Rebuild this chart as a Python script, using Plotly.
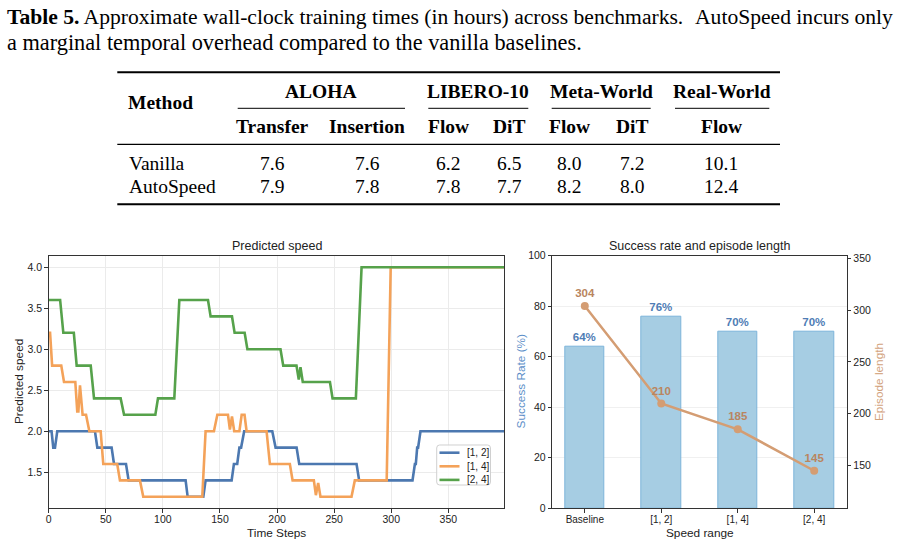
import plotly.graph_objects as go

W, H = 898, 545

# ---------------- data ----------------
# Table 5 (wall-clock training hours)
table_groups = ["ALOHA", "LIBERO-10", "Meta-World", "Real-World"]
table_cols = ["Transfer", "Insertion", "Flow", "DiT", "Flow", "DiT", "Flow"]
table_methods = ["Vanilla", "AutoSpeed"]
vanilla_hours = ["7.6", "7.6", "6.2", "6.5", "8.0", "7.2", "10.1"]
autospeed_hours = ["7.9", "7.8", "7.8", "7.7", "8.2", "8.0", "12.4"]

# Predicted speed traces (time step, speed)
speed12_t = [0, 2.5, 4, 5.5, 7.5, 40.5, 42.6, 55.1, 57.2, 67.7, 70, 119.9, 121.7, 135.4, 137.4,
             160.2, 162.2, 165.1, 167, 168.5, 171.2, 195.8, 198.7, 217.1, 219.4, 269.6, 271.9,
             318.6, 320.7, 321.5, 322.7, 323.5, 325.6, 399]
speed12_v = [2.0, 2.0, 1.8, 1.8, 2.0, 2.0, 1.8, 1.8, 1.6, 1.6, 1.4, 1.4, 1.2, 1.2, 1.4,
             1.4, 1.6, 1.6, 1.8, 1.8, 2.0, 2.0, 1.8, 1.8, 1.6, 1.6, 1.4,
             1.4, 1.6, 1.6, 1.8, 1.8, 2.0, 2.0]

speed14_t = [0, 1.2, 3, 11, 13.4, 23.3, 25, 26, 27.4, 29.7, 32.7, 35.6, 45.5, 47.8, 60, 62.4,
             79.9, 82.8, 134.5, 137.4, 144.7, 147.7, 157, 158.7, 160.5, 162.5, 167, 169, 171.5,
             173.3, 190.8, 193.7, 211.2, 213.6, 232.2, 234, 236, 238, 265.2, 268.1, 296, 299.5, 399]
speed14_v = [3.2, 3.2, 2.8, 2.8, 2.6, 2.6, 2.24, 2.24, 2.56, 2.2, 2.2, 2.0, 2.0, 1.6, 1.6, 1.4,
             1.4, 1.2, 1.2, 2.0, 2.0, 2.2, 2.2, 2.02, 2.18, 2.0, 2.0, 2.2, 2.2,
             2.0, 2.0, 1.6, 1.6, 1.4, 1.4, 1.22, 1.37, 1.2, 1.2, 1.4, 1.4, 4.0, 4.0]

speed24_t = [0, 10, 12.8, 22, 24.5, 36.8, 39.7, 63, 66, 93.4, 95.7, 110, 114.4, 139.5, 141.8,
             160.5, 162.8, 171.6, 174, 203, 205.4, 217, 219, 220.5, 222.5, 246.3, 248.6, 269,
             274, 399]
speed24_v = [3.6, 3.6, 3.2, 3.2, 2.8, 2.8, 2.4, 2.4, 2.2, 2.2, 2.4, 2.4, 3.6, 3.6, 3.4,
             3.4, 3.2, 3.2, 3.0, 3.0, 2.8, 2.8, 2.63, 2.78, 2.6, 2.6, 2.4, 2.4,
             4.0, 4.0]

speed_names = ["[1, 2]", "[1, 4]", "[2, 4]"]
speed_colors = ["#4C78B0", "#F4A259", "#56A24B"]

# Success rate / episode length
speed_ranges = ["Baseline", "[1, 2]", "[1, 4]", "[2, 4]"]
success_rate = [64, 76, 70, 70]
episode_length = [304, 210, 185, 145]


def px(x):
    return x / W


def py(y):
    return 1 - y / H


SANS = "Liberation Sans, Arial, sans-serif"
SERIF = "Liberation Serif, Times New Roman, serif"
AX = "#333333"
GRID = "#ebebeb"

fig = go.Figure()

for tt, vv, nm, col in zip([speed12_t, speed14_t, speed24_t], [speed12_v, speed14_v, speed24_v],
                           speed_names, speed_colors):
    fig.add_trace(go.Scatter(x=tt, y=vv, mode="lines", name=nm, showlegend=False,
                             line=dict(color=col, width=2.6), xaxis="x", yaxis="y"))

fig.add_trace(go.Bar(x=list(range(len(speed_ranges))), y=success_rate, width=0.52,
                     marker=dict(color="#a6cde3", line=dict(color="#7cb4da", width=1)),
                     texttemplate="<b>%{y}%</b>", textposition="outside", cliponaxis=False,
                     textfont=dict(family=SANS, size=11.5, color="#4f7db5"),
                     showlegend=False, xaxis="x2", yaxis="y2"))
fig.add_trace(go.Scatter(x=list(range(len(speed_ranges))), y=episode_length,
                         mode="lines+markers+text", texttemplate="<b>%{y}</b>",
                         textposition="top center", cliponaxis=False,
                         textfont=dict(family=SANS, size=11.5, color="#b98560"),
                         line=dict(color="#d49d73", width=2.5),
                         marker=dict(color="#d49d73", size=8),
                         showlegend=False, xaxis="x2", yaxis="y3"))

common = dict(showline=True, linecolor=AX, linewidth=1, ticks="outside", ticklen=3.5,
              tickcolor=AX, tickwidth=1, zeroline=False, automargin=False,
              tickfont=dict(family=SANS, size=10.5, color="#222222"))

ydom = [py(508.3), py(255.7)]
fig.update_layout(
    width=W, height=H, margin=dict(l=0, r=0, t=0, b=0, pad=0, autoexpand=False),
    paper_bgcolor="white", plot_bgcolor="white", showlegend=False,
    font=dict(family=SANS, color="#222222"),
    xaxis=dict(domain=[px(48.7), px(504.3)], range=[0, 399], anchor="y", mirror=True,
               tickvals=[0, 50, 100, 150, 200, 250, 300, 350], ticklabelstandoff=-2,
               showgrid=True, gridcolor=GRID, gridwidth=0.8, **common),
    yaxis=dict(domain=ydom, range=[1.06, 4.14], anchor="x", mirror=True,
               tickvals=[1.5, 2.0, 2.5, 3.0, 3.5, 4.0], tickformat=".1f",
               showgrid=True, gridcolor=GRID, gridwidth=0.8, **common),
    xaxis2=dict(domain=[px(552.3), px(846.7)], range=[-0.425, 3.425], anchor="y2", mirror=True,
                tickvals=list(range(len(speed_ranges))), ticktext=speed_ranges,
                ticklabelstandoff=-2, showgrid=False,
                **{**common, "tickfont": dict(family=SANS, size=10, color="#222222")}),
    yaxis2=dict(domain=ydom, range=[0, 100], anchor="x2", mirror=False,
                tickvals=[0, 20, 40, 60, 80, 100],
                showgrid=True, gridcolor="#f0f0f0", gridwidth=0.8, **common),
    yaxis3=dict(overlaying="y2", side="right", anchor="x2", range=[108.75, 352.6],
                tickvals=[150, 200, 250, 300, 350], showgrid=False, **common),
    bargap=0,
)

ann = []


def text(x, y, s, size, family=SANS, color="#222222", xanchor="center", angle=0):
    ann.append(dict(x=px(x), y=py(y), xref="paper", yref="paper", text=s, showarrow=False,
                    xanchor=xanchor, yanchor="middle", textangle=angle, borderpad=0,
                    font=dict(family=family, size=size, color=color)))


# chart titles and axis titles
text(276.5, 245.7, "Predicted speed", 12.5)
text(699.5, 245.7, "Success rate and episode length", 12.5)
text(276.5, 532.5, "Time Steps", 11.8)
text(699.5, 532.5, "Speed range", 11.8)
text(18.3, 381.7, "Predicted speed", 11.8, angle=-90)
text(520.7, 381.7, "Success Rate (%)", 11.8, color="#5b8ec8", angle=-90)
text(878.3, 381.7, "Episode length", 11.8, color="#d2a27c", angle=-90)

# caption (first line justified: left part + right part)
text(6, 17, "<b>Table 5.</b> Approximate wall-clock training times (in hours) across benchmarks.",
     21.6, family=SERIF, color="#000000", xanchor="left")
text(894, 17, "AutoSpeed incurs only", 21.6, family=SERIF, color="#000000", xanchor="right")
text(6, 42, "a marginal temporal overhead compared to the vanilla baselines.",
     22.3, family=SERIF, color="#000000", xanchor="left")

# table
col_x = [272, 367, 448, 509, 569, 632, 721]
group_x = [320.7, 478.3, 601, 721.7]
group_span = [(237.7, 405), (428.3, 528.3), (551.7, 650.7), (675, 769.3)]
TS = 19.5
text(160, 102.3, "<b>Method</b>", TS, family=SERIF, color="#000000")
for g, gx in zip(table_groups, group_x):
    text(gx, 91.7, "<b>%s</b>" % g, TS, family=SERIF, color="#000000")
for c, cx in zip(table_cols, col_x):
    text(cx, 126.7, "<b>%s</b>" % c, TS, family=SERIF, color="#000000")
rows_y = [163.3, 186.7]
for m, vals, ry in zip(table_methods, [vanilla_hours, autospeed_hours], rows_y):
    text(128.3, ry, m, TS, family=SERIF, color="#000000", xanchor="left")
    for v, cx in zip(vals, col_x):
        text(cx, ry, v, TS, family=SERIF, color="#000000")

shapes = []


def hline(x0, x1, y, w, color="#000000"):
    shapes.append(dict(type="line", xref="paper", yref="paper", x0=px(x0), x1=px(x1),
                       y0=py(y), y1=py(y), line=dict(color=color, width=w)))


hline(117.3, 780, 72.3, 2)
for a, b in group_span:
    hline(a, b, 108.3, 1)
hline(117.3, 780, 144.3, 1.2)
hline(117.3, 780, 204.3, 2)


# legend for the predicted-speed panel (rounded box)
def rounded_box(x0, y0, x1, y1, r):
    pts = [
        ("M", (x0 + r, y0)), ("L", (x1 - r, y0)), ("Q", (x1, y0), (x1, y0 + r)),
        ("L", (x1, y1 - r)), ("Q", (x1, y1), (x1 - r, y1)), ("L", (x0 + r, y1)),
        ("Q", (x0, y1), (x0, y1 - r)), ("L", (x0, y0 + r)), ("Q", (x0, y0), (x0 + r, y0)),
    ]
    out = []
    for item in pts:
        cmd = item[0]
        coords = " ".join("%.5f,%.5f" % (px(a), py(b)) for a, b in item[1:])
        out.append(cmd + " " + coords)
    return " ".join(out) + " Z"


shapes.append(dict(type="path", xref="paper", yref="paper",
                   path=rounded_box(436.7, 445, 490.5, 485, 3),
                   line=dict(color="#d0d0d0", width=1),
                   fillcolor="rgba(255,255,255,0.85)", layer="above"))
for i, (nm, col) in enumerate(zip(speed_names, speed_colors)):
    ly = 452.7 + 13.6 * i
    hline(439.5, 459.5, ly, 2.6, color=col)
    ann.append(dict(x=px(465.5), y=py(ly), xref="paper", yref="paper", text=nm, showarrow=False,
                    xanchor="left", yanchor="middle", borderpad=0,
                    font=dict(family=SANS, size=10, color="#222222")))

fig.update_layout(annotations=ann, shapes=shapes)

fig.write_html("out.html")
